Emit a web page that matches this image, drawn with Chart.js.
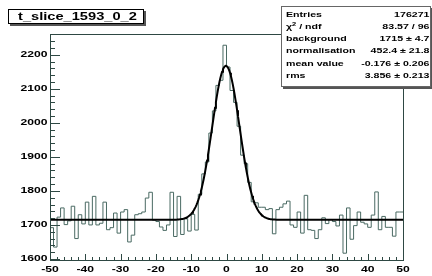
<!DOCTYPE html>
<html lang="en">
<head>
    <meta charset="UTF-8">
    <title>t_slice_1593_0_2</title>
    <script src="https://cdn.jsdelivr.net/npm/chart.js"></script>
    <style>
        body { margin: 0; background: #ffffff; }
        canvas { display: block; }
    </style>
</head>
<body>
    <canvas id="myChart" width="432" height="276"></canvas>

    <script>
        // histogram: 100 bins of width 1 from -50 to 50
        const binLow = -50;
        const binWidth = 1;
        const counts = [
            1692, 1635, 1723, 1750, 1701, 1712, 1755, 1660, 1730, 1703,
            1767, 1700, 1784, 1700, 1705, 1767, 1686, 1692, 1735, 1676,
            1738, 1745, 1650, 1670, 1730, 1733, 1738, 1779, 1796, 1714,
            1710, 1694, 1684, 1700, 1796, 1666, 1784, 1672, 1719, 1682,
            1731, 1685, 1790, 1850, 1885, 1970, 2035, 2110, 2125, 2228,
            2164, 2095, 2060, 1990, 1905, 1880, 1825, 1768, 1765, 1752,
            1752, 1745, 1748, 1674, 1745, 1752, 1762, 1770, 1700, 1693,
            1738, 1676, 1787, 1686, 1684, 1660, 1686, 1721, 1704, 1716,
            1710, 1697, 1729, 1617, 1750, 1658, 1698, 1738, 1708, 1703,
            1693, 1729, 1797, 1686, 1725, 1693, 1693, 1667, 1738, 1738
        ];

        // fit parameters as printed in the stats box
        const fitBackground = 1715;
        const fitNorm = 452.4;
        const fitMean = -0.176;
        const fitRms = 3.856;

        const xTicks = [-50, -40, -30, -20, -10, 0, 10, 20, 30, 40, 50];
        const yTicks = [1600, 1700, 1800, 1900, 2000, 2100, 2200];

        const statNames = ['Entries', 'χ2 / ndf', 'background', 'normalisation', 'mean value', 'rms'];
        const statValues = ['176271', '83.57 / 96', '1715 ± 4.7', '452.4 ± 21.8', '-0.176 ± 0.206', '3.856 ± 0.213'];
        const histTitle = 't_slice_1593_0_2';

        // step outline: one point per left bin edge, plus closing point
        const histPoints = counts.map((v, i) => ({ x: binLow + i * binWidth, y: v }));
        histPoints.push({ x: binLow + counts.length * binWidth, y: counts[counts.length - 1] });

        const fitPoints = [];
        for (let x = -50; x <= 50.0001; x += 0.25) {
            const d = (x - fitMean) / fitRms;
            fitPoints.push({ x: x, y: fitBackground + fitNorm * Math.exp(-0.5 * d * d) });
        }

        const FONT = '"Liberation Sans", Arial, sans-serif';

        // text is stretched horizontally in the original picture
        function txt(ctx, s, x, y, size, align, sx) {
            ctx.save();
            ctx.font = 'bold ' + size + 'px ' + FONT;
            ctx.textBaseline = 'middle';
            ctx.textAlign = 'left';
            const w = ctx.measureText(s).width * sx;
            let x0 = x;
            if (align === 'right') x0 = x - w;
            if (align === 'center') x0 = x - w / 2;
            ctx.translate(x0, y);
            ctx.scale(sx, 1);
            ctx.fillStyle = '#000';
            ctx.fillText(s, 0, 0);
            ctx.restore();
            return w;
        }

        function box(ctx, x1, y1, x2, y2, border) {
            ctx.fillStyle = '#555';
            ctx.fillRect(x1 + 2, y1 + 2, x2 - x1, y2 - y1);
            ctx.fillStyle = '#fff';
            ctx.fillRect(x1, y1, x2 - x1, y2 - y1);
            ctx.strokeStyle = border;
            ctx.lineWidth = 1;
            ctx.strokeRect(x1 + 0.5, y1 + 0.5, x2 - x1 - 1, y2 - y1 - 1);
        }

        const rootAxes = {
            id: 'rootAxes',
            afterDatasetsDraw(chart) {
                const ctx = chart.ctx;
                const a = chart.chartArea;
                const xs = chart.scales.x;
                const ys = chart.scales.y;
                ctx.save();
                ctx.strokeStyle = '#2e4843';
                ctx.lineWidth = 1;
                ctx.strokeRect(Math.round(a.left) + 0.5, Math.round(a.top) + 0.5,
                    Math.round(a.right - a.left), Math.round(a.bottom - a.top));

                ctx.beginPath();
                // y ticks, inside the frame
                for (let v = 1600; v <= ys.max; v += 20) {
                    const py = Math.round(ys.getPixelForValue(v)) + 0.5;
                    const len = (v % 100 === 0) ? 10 : 5;
                    ctx.moveTo(a.left, py);
                    ctx.lineTo(a.left + len, py);
                }
                // x ticks
                for (let v = -50; v <= 50; v += 2) {
                    const px = Math.round(xs.getPixelForValue(v)) + 0.5;
                    const len = (v % 10 === 0) ? 6 : 3;
                    ctx.moveTo(px, a.bottom);
                    ctx.lineTo(px, a.bottom - len);
                }
                ctx.stroke();

                yTicks.forEach(v => {
                    txt(ctx, String(v), a.left - 2.5, ys.getPixelForValue(v), 9, 'right', 1.35);
                });
                xTicks.forEach(v => {
                    txt(ctx, String(v), xs.getPixelForValue(v), 270, 9, 'center', 1.35);
                });

                // title box
                box(ctx, 8, 9, 144, 24, '#000');
                txt(ctx, histTitle, 18, 17, 10.7, 'left', 1.37);

                // stats box
                box(ctx, 281, 6, 431, 87, '#666');
                statNames.forEach((name, i) => {
                    const y = 15 + i * 12.1;
                    if (name.startsWith('χ2')) {
                        const w = txt(ctx, 'χ', 286, y, 7.8, 'left', 1.36);
                        const w2 = txt(ctx, '2', 286 + w, y - 2.5, 5.5, 'left', 1.36);
                        txt(ctx, ' / ndf', 286 + w + w2, y, 7.8, 'left', 1.36);
                    } else {
                        txt(ctx, name, 286, y, 7.8, 'left', 1.36);
                    }
                    txt(ctx, statValues[i], 429.5, y, 7.8, 'right', 1.36);
                });
                ctx.restore();
            }
        };

        const ctx = document.getElementById('myChart').getContext('2d');
        const myChart = new Chart(ctx, {
            type: 'line',
            data: {
                datasets: [{
                    label: 'fit',
                    data: fitPoints,
                    borderColor: '#000000',
                    borderWidth: 2,
                    pointRadius: 0,
                    tension: 0
                }, {
                    label: 'hist',
                    data: histPoints,
                    stepped: 'before',
                    borderColor: '#4a6a63',
                    borderWidth: 1,
                    pointRadius: 0,
                    fill: false
                }]
            },
            options: {
                responsive: false,
                devicePixelRatio: 1,
                animation: false,
                layout: { padding: { left: 50, right: 29, top: 34, bottom: 16 } },
                plugins: { legend: { display: false }, tooltip: { enabled: false } },
                scales: {
                    x: { type: 'linear', min: -50, max: 50, display: false },
                    y: { type: 'linear', min: 1597, max: 2261, display: false }
                }
            },
            plugins: [rootAxes]
        });
    </script>
</body>
</html>
